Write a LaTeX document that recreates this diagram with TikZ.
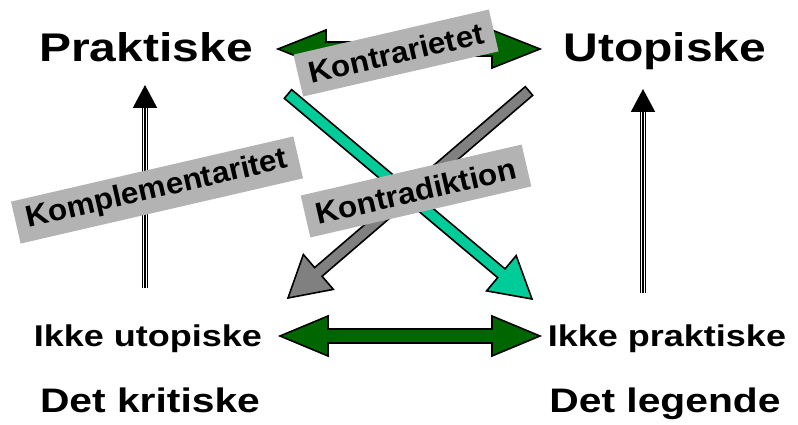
\documentclass[tikz,border=0pt]{standalone}
\usepackage{fontspec}
\usepackage{tikz}
\usetikzlibrary{calc,arrows.meta}

\newfontfamily\wide{Liberation Sans}[FakeStretch=1.2]
\newfontfamily\tagfont{Liberation Sans}[FakeStretch=1.05]
\definecolor{dkgreen}{RGB}{0,102,0}
\definecolor{seagreen}{RGB}{0,204,153}
\definecolor{midgray}{RGB}{128,128,128}
\definecolor{tagfill}{RGB}{179,179,179}

\tikzset{
    big/.style={anchor=base, font=\wide\bfseries\fontsize{40pt}{48pt}\selectfont},
    mid/.style={anchor=base, font=\wide\bfseries\fontsize{30pt}{36pt}\selectfont},
    low/.style={anchor=base, font=\wide\bfseries\fontsize{34pt}{40pt}\selectfont},
    tag/.style={fill=tagfill, inner xsep=11pt, inner ysep=0pt, minimum height=43pt,
        font=\tagfont\bfseries\fontsize{30pt}{34pt}\selectfont},
    % block arrow with one head: shaft half width, head half width, head length
    sblock/.style n args={3}{draw=black, line width=1.6pt,
        to path={
            ($(\tikztostart)!#1!90:(\tikztotarget)$)
            -- ($(\tikztotarget)!#3!(\tikztostart)!#1!-90:(\tikztostart)$)
            -- ($(\tikztotarget)!#3!(\tikztostart)!#2!-90:(\tikztostart)$)
            -- (\tikztotarget)
            -- ($(\tikztotarget)!#3!(\tikztostart)!#2!90:(\tikztostart)$)
            -- ($(\tikztotarget)!#3!(\tikztostart)!#1!90:(\tikztostart)$)
            -- ($(\tikztostart)!#1!-90:(\tikztotarget)$)
            -- cycle}},
    % block arrow with two heads
    dblock/.style n args={3}{draw=black, line width=1.6pt,
        to path={
            (\tikztostart)
            -- ($(\tikztostart)!#3!(\tikztotarget)!#2!90:(\tikztotarget)$)
            -- ($(\tikztostart)!#3!(\tikztotarget)!#1!90:(\tikztotarget)$)
            -- ($(\tikztotarget)!#3!(\tikztostart)!#1!-90:(\tikztostart)$)
            -- ($(\tikztotarget)!#3!(\tikztostart)!#2!-90:(\tikztostart)$)
            -- (\tikztotarget)
            -- ($(\tikztotarget)!#3!(\tikztostart)!#2!90:(\tikztostart)$)
            -- ($(\tikztotarget)!#3!(\tikztostart)!#1!90:(\tikztostart)$)
            -- ($(\tikztostart)!#3!(\tikztotarget)!#1!-90:(\tikztotarget)$)
            -- ($(\tikztostart)!#3!(\tikztotarget)!#2!-90:(\tikztotarget)$)
            -- cycle}},
    rail/.style={line width=1pt, double=white, double distance=4.5pt, shorten >=18pt},
    railtip/.style={line width=2pt, -{Triangle[length=23pt,width=24pt]}},
}

\begin{document}
\begin{tikzpicture}[x=1pt,y=-1pt]
    \useasboundingbox[fill=white] (0,0) rectangle (798,425);

    \node[big] (prak) at (146,62) {Praktiske};
    \node[big] (utop) at (665,62) {Utopiske};
    \node[mid] (iu) at (148,346) {Ikke utopiske};
    \node[mid] (ip) at (667,346) {Ikke praktiske};
    \node[low] (krit) at (150,412) {Det kritiske};
    \node[low] (leg) at (665,412) {Det legende};

    \coordinate (lb) at (145,288);
    \coordinate (lt) at (145,85);
    \coordinate (rb) at (643,293);
    \coordinate (rt) at (643,89);
    \coordinate (ct) at (288,94);
    \coordinate (cb) at (532,299);
    \coordinate (gt) at (529,91);
    \coordinate (gb) at (288,298);
    \coordinate (gl) at (278,49);
    \coordinate (gr) at (540,49);
    \coordinate (bl) at (280,336);
    \coordinate (br) at (540,336);

    \draw[rail] (lb) -- (lt);
    \draw[railtip] (lb) -- (lt);
    \draw[rail] (rb) -- (rt);
    \draw[railtip] (rb) -- (rt);

    \path[fill=seagreen, sblock={5.7pt}{23pt}{40pt}] (ct) to (cb);
    \path[fill=midgray, sblock={5.7pt}{23pt}{40pt}] (gt) to (gb);

    \path[fill=dkgreen, dblock={7pt}{19pt}{48pt}] (gl) to (gr);
    \path[fill=dkgreen, dblock={7pt}{20pt}{48pt}] (bl) to (br);

    \node[tag, rotate=13] (t1) at (396,53) {Kontrarietet};
    \node[tag, rotate=13] (t2) at (157,190) {Komplementaritet};
    \node[tag, rotate=13] (t3) at (416,191) {Kontradiktion};
\end{tikzpicture}
\end{document}
